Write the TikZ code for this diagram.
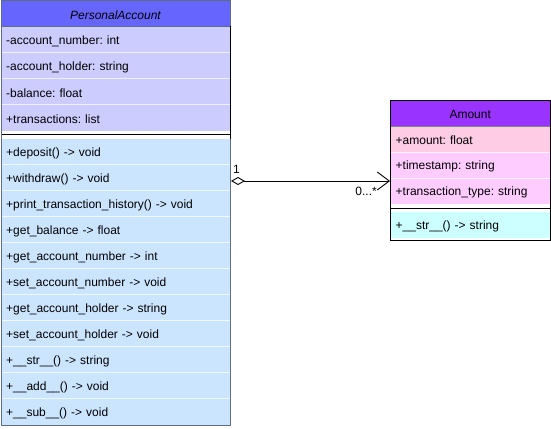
\documentclass[tikz,border=0pt]{standalone}
\usepackage{fontspec}
\setmainfont{Liberation Sans}
\usetikzlibrary{arrows.meta}
\definecolor{paHead}{HTML}{6666FF}
\definecolor{paAttr}{HTML}{CCCCFF}
\definecolor{paMeth}{HTML}{CCE5FF}
\definecolor{paLine}{HTML}{5E6E7E}
\definecolor{amHead}{HTML}{9933FF}
\definecolor{amAttrA}{HTML}{FFCCE6}
\definecolor{amAttr}{HTML}{FFCCFF}
\definecolor{amMeth}{HTML}{CCFFFF}
\frenchspacing
\newcommand{\lowtxt}[1]{\raisebox{-1.5pt}[\height][\depth]{#1}}
\begin{document}
\begin{tikzpicture}[x=1pt,y=-1pt,
  font=\fontsize{12}{14}\selectfont,
  rowbase/.style={anchor=north west, inner xsep=5.5pt, inner ysep=0pt, minimum height=26pt, align=left},
  parow/.style={rowbase, text width=218.5pt},
  amrow/.style={rowbase, text width=149pt},
  headbox/.style={anchor=north west, inner sep=0pt, minimum height=26pt, align=center},
  sepline/.style={white, opacity=0.7, line width=0.8pt},
  frame/.style={draw, line width=1pt, anchor=north west, inner sep=0pt, fill=none},
]
\useasboundingbox (0,0) rectangle (551,428);
% ---------------- PersonalAccount ----------------
\node[headbox, fill=paHead, minimum width=229.5pt] (pah) at (0.5,0.5) {\lowtxt{\itshape PersonalAccount}};
\foreach \t [count=\i from 0] in {-account\_number: int, -account\_holder: string, -balance: float, +transactions: list}{
  \node[parow, fill=paAttr] (paa\i) at (0.5,{26.5+26*\i}) {\lowtxt{\t}};
}
\fill[white] (0.5,130.5) rectangle (230,138.5);
\foreach \t [count=\i from 0] in {+deposit() -> void, +withdraw() -> void, +print\_transaction\_history() -> void, +get\_balance -> float, +get\_account\_number -> int, +set\_account\_number -> void, +get\_account\_holder -> string, +set\_account\_holder -> void, +\_\_str\_\_() -> string, +\_\_add\_\_() -> void, +\_\_sub\_\_() -> void}{
  \node[parow, fill=paMeth] (pam\i) at (0.5,{138.5+26*\i}) {\lowtxt{\t}};
}
\foreach \y in {52.5,78.5,104.5}{\draw[sepline] (0.5,\y) -- (230,\y);}
\foreach \y in {164.5,190.5,216.5,242.5,268.5,294.5,320.5,346.5,372.5,398.5}{\draw[sepline] (0.5,\y) -- (230,\y);}
\draw[black, line width=1pt] (0.5,134.5) -- (230,134.5);
\draw[paLine, line width=0.8pt] (0.5,26.5) -- (230,26.5);
\node[frame, draw=paLine, minimum width=229.5pt, minimum height=424pt] (pa) at (0.5,0.5) {};
\draw[black, line width=1pt] (230,26.5) -- (230,138.5);
% ---------------- Amount ----------------
\node[headbox, fill=amHead, minimum width=160pt] (amh) at (390,100) {\lowtxt{Amount}};
\node[amrow, fill=amAttrA] (ama0) at (390,126) {\lowtxt{+amount: float}};
\node[amrow, fill=amAttr] (ama1) at (390,152) {\lowtxt{+timestamp: string}};
\node[amrow, fill=amAttr] (ama2) at (390,178) {\lowtxt{+transaction\_type: string}};
\fill[white] (390,204) rectangle (550,212);
\node[amrow, fill=amMeth] (amm0) at (390,212) {\lowtxt{+\_\_str\_\_() -> string}};
\draw[sepline] (390,152) -- (550,152);
\draw[sepline] (390,178) -- (550,178);
\draw[black, line width=1pt] (390,208) -- (550,208);
\draw[gray, line width=0.8pt] (390,126) -- (550,126);
\node[frame, draw=black, minimum width=160pt, minimum height=140pt] (am) at (390,100) {};
% ---------------- connector ----------------
\coordinate (cs) at (pa.east |- 0,181);
\coordinate (ce) at (am.west |- 0,181);
\draw[line width=0.9pt, {Diamond[open,length=14pt,width=8pt]}-{Straight Barb[length=12pt,width=18pt]}] (cs) -- (ce);
\node[anchor=south west, inner sep=1pt] (m1) at (232,175) {1};
\node[anchor=north east, inner sep=1pt] (m2) at (378,186) {0...*};
\end{tikzpicture}
\end{document}
